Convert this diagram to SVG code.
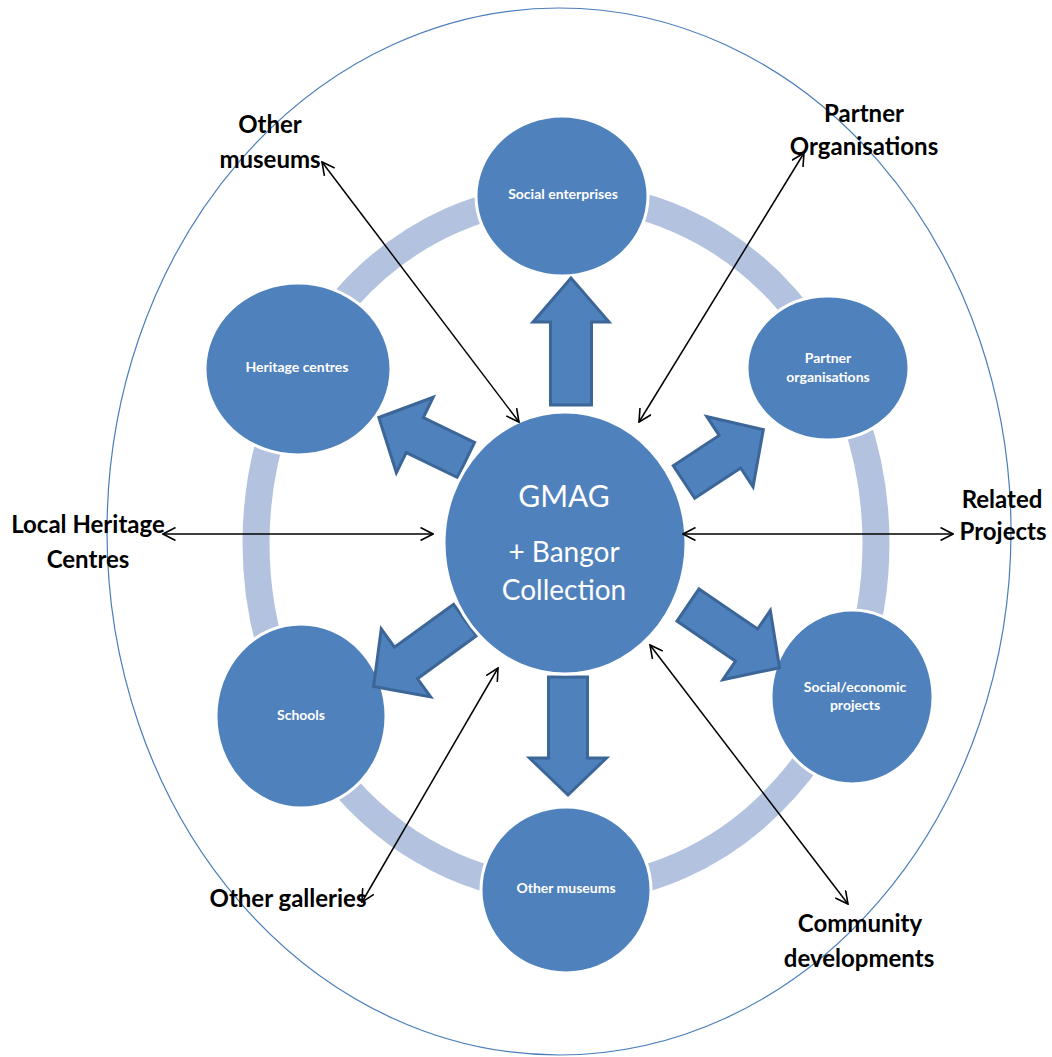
<svg xmlns="http://www.w3.org/2000/svg" width="1052" height="1057" viewBox="0 0 1052 1057">
<style>
.node{fill:#4f81bd;stroke:#ffffff;stroke-width:3}
.blk{fill:#4f81bd;stroke:#3b6697;stroke-width:3;stroke-linejoin:miter}
.lbl{font-family:Lato,"Liberation Sans",sans-serif;font-weight:bold;font-size:14px;fill:#ffffff;text-anchor:middle}
.out{font-family:Lato,"Liberation Sans",sans-serif;font-weight:bold;font-size:24px;fill:#000000;text-anchor:middle}
.ctr{font-family:Lato,"Liberation Sans",sans-serif;font-size:28px;fill:#ffffff;text-anchor:middle}
.con{fill:none;stroke:#000000;stroke-width:1.5;marker-start:url(#ah);marker-end:url(#ah)}
</style>
<defs>
<marker id="ah" viewBox="0 0 14 14" refX="13" refY="7" markerWidth="14" markerHeight="14" markerUnits="userSpaceOnUse" orient="auto-start-reverse">
<path d="M0.5,0.5 L13,7 L0.5,13.5" fill="none" stroke="#000000" stroke-width="1.6"/>
</marker>
</defs>
<rect width="1052" height="1057" fill="#ffffff"/>
<ellipse cx="559" cy="531.5" rx="452" ry="523.5" fill="none" stroke="#4a7ebb" stroke-width="1.2"/>
<ellipse cx="566" cy="543" rx="310" ry="347" fill="none" stroke="#b3c3df" stroke-width="27"/>

<g id="node-social-enterprises"><ellipse class="node" cx="562" cy="196" rx="86" ry="80"/><text class="lbl" x="563" y="199">Social enterprises</text></g>
<g id="node-heritage-centres"><ellipse class="node" cx="298" cy="369" rx="93" ry="86"/><text class="lbl" x="297" y="372">Heritage centres</text></g>
<g id="node-partner-organisations"><ellipse class="node" cx="828" cy="368" rx="81" ry="72"/><text class="lbl" x="828" y="363">Partner</text><text class="lbl" x="828" y="382">organisations</text></g>
<g id="node-social-economic"><ellipse class="node" cx="852" cy="697" rx="81" ry="87"/><text class="lbl" x="855" y="692">Social/economic</text><text class="lbl" x="855" y="710">projects</text></g>
<g id="node-schools"><ellipse class="node" cx="301" cy="716" rx="85" ry="92"/><text class="lbl" x="301" y="720">Schools</text></g>
<g id="node-other-museums"><ellipse class="node" cx="566" cy="890" rx="85" ry="83"/><text class="lbl" x="566" y="893">Other museums</text></g>

<g id="block-arrows">
<polygon class="blk" transform="translate(571,405) rotate(-90)" points="0,-20.5 83,-20.5 83,-38 127,0 83,38 83,20.5 0,20.5"/>
<polygon class="blk" transform="translate(568,677) rotate(90)" points="0,-19.5 81,-19.5 81,-38.5 118,0 81,38.5 81,19.5 0,19.5"/>
<polygon class="blk" transform="translate(684,482) rotate(-33.4)" points="0,-19.5 55,-19.5 55,-42 95,0 55,42 55,19.5 0,19.5"/>
<polygon class="blk" transform="translate(466,460) rotate(-154)" points="0,-19.5 57,-19.5 57,-42 97,0 57,42 57,19.5 0,19.5"/>
<polygon class="blk" transform="translate(465,620) rotate(144)" points="0,-19.5 73,-19.5 73,-42 113,0 73,42 73,19.5 0,19.5"/>
<polygon class="blk" transform="translate(688,605) rotate(34.4)" points="0,-19.5 71,-19.5 71,-42 111,0 71,42 71,19.5 0,19.5"/>
</g>

<g id="node-gmag"><ellipse class="node" cx="565" cy="543" rx="121" ry="131"/>
<text class="ctr" x="564" y="507" style="font-size:30px">GMAG</text>
<text class="ctr" x="564" y="562">+ Bangor</text>
<text class="ctr" x="564" y="600">Collection</text></g>

<g id="connectors">
<line class="con" x1="322" y1="162" x2="519" y2="422"/>
<line class="con" x1="804" y1="153" x2="639" y2="422"/>
<line class="con" x1="163" y1="534" x2="433" y2="534"/>
<line class="con" x1="953" y1="534" x2="683" y2="534"/>
<line class="con" x1="362" y1="902" x2="498" y2="668"/>
<line class="con" x1="848" y1="904" x2="650" y2="645"/>
</g>

<g id="outer-labels">
<text class="out" x="270" y="133">Other</text>
<text class="out" x="270" y="168">museums</text>
<text class="out" x="864" y="122">Partner</text>
<text class="out" x="864" y="155">Organisations</text>
<text class="out" x="88" y="533">Local Heritage</text>
<text class="out" x="88" y="568">Centres</text>
<text class="out" x="1002" y="508">Related</text>
<text class="out" x="1003" y="540">Projects</text>
<text class="out" x="288" y="907">Other galleries</text>
<text class="out" x="860" y="932">Community</text>
<text class="out" x="859" y="967">developments</text>
</g>
</svg>
